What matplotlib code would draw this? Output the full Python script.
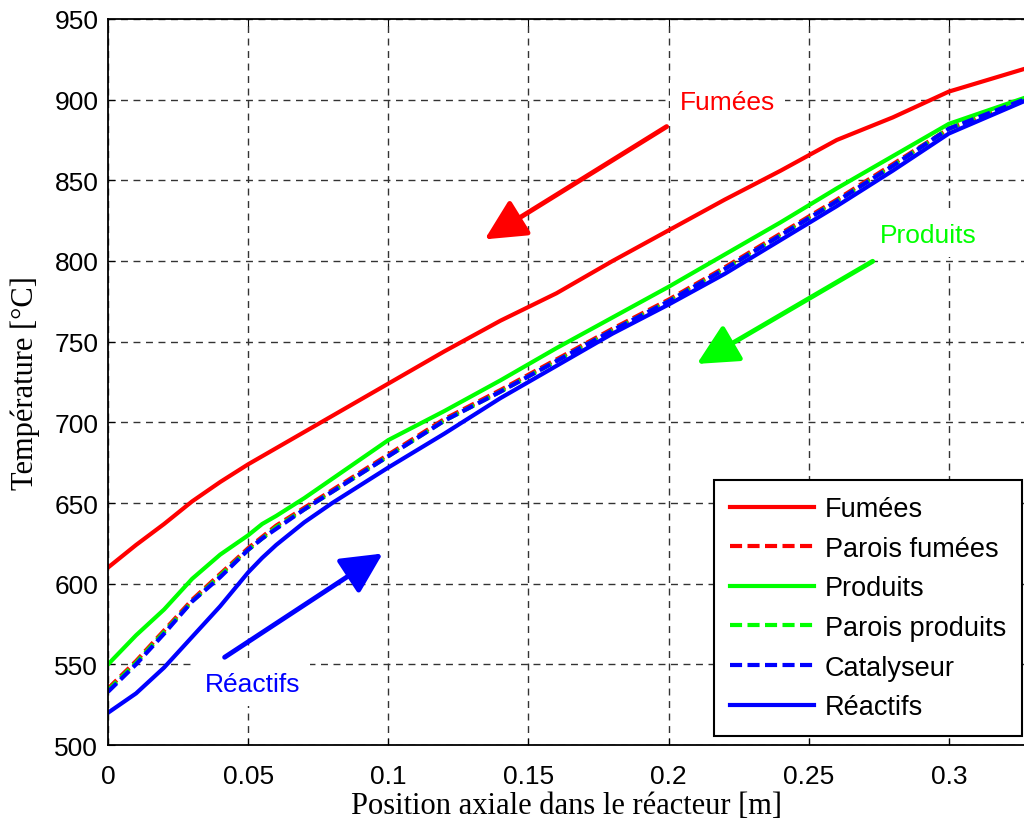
import numpy as np
import matplotlib
matplotlib.use("Agg")
import matplotlib.pyplot as plt

# position axiale [m]
x = [0, 0.01, 0.02, 0.03, 0.04, 0.05, 0.055, 0.06, 0.07, 0.08, 0.09, 0.10,
     0.12, 0.14, 0.16, 0.18, 0.20, 0.22, 0.24, 0.26, 0.28, 0.30, 0.3268]

# temperatures [degC]
fumees = [610, 624, 637, 651, 663, 674, 679, 684, 694, 704, 714, 724,
          744, 763, 780, 800, 819, 838, 856, 875, 889, 905, 919]
parois_fumees = [535, 552, 571, 590, 606, 622, 629, 636, 647, 658, 669, 680,
                 702, 720, 739, 758, 776, 796, 817, 838, 860, 882, 900]
produits = [550, 568, 584, 603, 618, 630, 637, 642, 653, 665, 677, 689,
            707, 726, 746, 765, 784, 804, 824, 845, 865, 885, 901]
parois_produits = [534, 551, 570, 589, 605, 621, 628, 635, 646, 657, 668, 679,
                   701, 719, 738, 757, 775, 795, 816, 837, 859, 882, 900]
catalyseur = [533, 550, 569, 589, 604, 621, 628, 634, 646, 657, 668, 679,
              701, 719, 738, 757, 775, 795, 816, 837, 859, 882, 900]
reactifs = [520, 532, 548, 567, 586, 607, 616, 624, 638, 650, 661, 672,
            693, 715, 735, 755, 773, 792, 813, 834, 856, 879, 899]

plt.rcParams['font.family'] = ['Liberation Sans', 'DejaVu Sans']

fig = plt.figure(figsize=(10.24, 8.29), dpi=100)
ax = fig.add_axes([0.1055, 0.1001, 0.8945, 0.8758])

lw = 3
dash = (2.9, 1.3)
ax.plot(x, fumees, color='#ff0000', lw=lw, label='Fumées')
ax.plot(x, parois_fumees, color='#ff0000', lw=lw, dashes=dash, label='Parois fumées')
ax.plot(x, produits, color='#00ff00', lw=lw, label='Produits')
ax.plot(x, parois_produits, color='#00ff00', lw=lw, dashes=dash, label='Parois produits')
ax.plot(x, catalyseur, color='#0000ff', lw=lw, dashes=dash, label='Catalyseur')
ax.plot(x, reactifs, color='#0000ff', lw=lw, label='Réactifs')

ax.set_xlim(0, 0.3268)
ax.set_ylim(500, 950)
ax.set_xticks([0, 0.05, 0.1, 0.15, 0.2, 0.25, 0.3])
ax.set_xticklabels(['0', '0.05', '0.1', '0.15', '0.2', '0.25', '0.3'])
ax.set_yticks(np.arange(500, 951, 50))
ax.tick_params(direction='in', top=True, right=False, labelsize=19, length=5)
ax.tick_params(axis='x', pad=14)
ax.tick_params(axis='y', pad=7)
ax.grid(True, color='0.2', lw=1, linestyle=(0, (5, 4)))
ax.spines['right'].set_visible(False)
for s in ['left', 'bottom', 'top']:
    ax.spines[s].set_linewidth(1.3)

ax.set_xlabel('Position axiale dans le réacteur [m]', family='Liberation Serif', fontsize=22, labelpad=2)
ax.set_ylabel('Température [°C]', family='Liberation Serif', fontsize=22, labelpad=10)

# fleches
arw = dict(arrowstyle='-|>,head_length=1.0,head_width=0.5', lw=3.5, mutation_scale=25,
           shrinkA=0, shrinkB=0)
box = dict(facecolor='white', edgecolor='none', pad=7)
ax.annotate('', xy=(0.1344, 813.4), xytext=(0.1993, 883.3),
            arrowprops=dict(arw, color='#ff0000'))
ax.text(0.2211, 898.8, 'Fumées', color='#ff0000', fontsize=19, ha='center', va='center', bbox=box)
ax.annotate('', xy=(0.2101, 736.2), xytext=(0.2728, 799.8),
            arrowprops=dict(arw, color='#00ff00'))
ax.text(0.2925, 816, 'Produits', color='#00ff00', fontsize=19, ha='center', va='center', bbox=box)
ax.annotate('', xy=(0.098, 618.7), xytext=(0.0416, 554.4),
            arrowprops=dict(arw, color='#0000ff'))
ax.text(0.0516, 537.7, 'Réactifs', color='#0000ff', fontsize=19, ha='center', va='center', bbox=box)

leg = ax.legend(loc='lower right', bbox_to_anchor=(0.998, 0.012), fontsize=19.5,
                handlelength=3.1, labelspacing=0.5, fancybox=False, framealpha=1,
                borderpad=0.6, handletextpad=0.38, borderaxespad=0)
leg.get_frame().set_edgecolor('black')
leg.get_frame().set_linewidth(1.5)

fig.savefig('out.png', dpi=100)
